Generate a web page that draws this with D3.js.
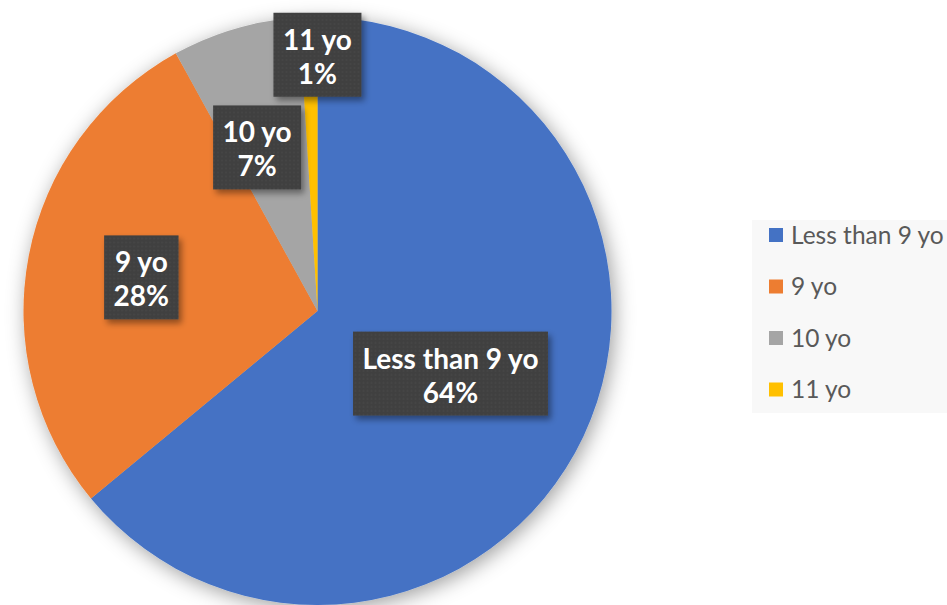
<!DOCTYPE html>
<html>
<head>
<meta charset="utf-8">
<script src="https://cdn.jsdelivr.net/npm/d3@7/dist/d3.min.js"></script>
<style>
  html, body { margin: 0; padding: 0; background: #ffffff; }
  svg { display: block; }
</style>
</head>
<body>
<svg id="chart" width="947" height="605"></svg>
<script>
// Age groups and their share of respondents (%)
const categories = ["Less than 9 yo", "9 yo", "10 yo", "11 yo"];
const values = [64, 28, 7, 1];
const colors = ["#4472C4", "#ED7D31", "#A5A5A5", "#FFC000"];

// Label placement: fraction of the radius for each callout, plus small nudges
const labelRadius = [0.5, 0.61, 0.59, 0.872];
const labelNudge = [[0, 0], [0, 0], [-12, 3], [8, 0]];

const W = 947, H = 605;
const cx = 317.5, cy = 311, R = 294;

const svg = d3.select("#chart");
const defs = svg.append("defs");

// soft glow around the pie
const pieShadow = defs.append("filter").attr("id", "pieShadow")
  .attr("x", "-10%").attr("y", "-10%").attr("width", "120%").attr("height", "120%");
pieShadow.append("feDropShadow")
  .attr("dx", 3).attr("dy", 4).attr("stdDeviation", 10)
  .attr("flood-color", "#000").attr("flood-opacity", 0.38);

// shadow under the callout boxes
const boxShadow = defs.append("filter").attr("id", "boxShadow")
  .attr("x", "-20%").attr("y", "-20%").attr("width", "150%").attr("height", "150%");
boxShadow.append("feDropShadow")
  .attr("dx", 3).attr("dy", 4).attr("stdDeviation", 3)
  .attr("flood-color", "#000").attr("flood-opacity", 0.4);

// faint dotted texture on the callouts
const dots = defs.append("pattern").attr("id", "dots")
  .attr("width", 4).attr("height", 4).attr("patternUnits", "userSpaceOnUse");
dots.append("rect").attr("width", 4).attr("height", 4).attr("fill", "#404040");
dots.append("circle").attr("cx", 1).attr("cy", 1).attr("r", 0.6).attr("fill", "#575757");

const data = categories.map((c, i) => ({ name: c, value: values[i], color: colors[i], i }));

const pie = d3.pie().value(d => d.value).sort(null);
const arcs = pie(data);
const arc = d3.arc().innerRadius(0).outerRadius(R);

const g = svg.append("g").attr("transform", `translate(${cx},${cy})`);

g.append("g").attr("filter", "url(#pieShadow)")
  .selectAll("path").data(arcs).join("path")
  .attr("d", arc)
  .attr("fill", d => d.data.color);

// callout labels
const labels = g.append("g");
arcs.forEach((a, k) => {
  const r = R * labelRadius[k];
  const c = d3.arc().innerRadius(r).outerRadius(r).centroid(a);
  const x = c[0] + labelNudge[k][0];
  const y = c[1] + labelNudge[k][1];
  const lg = labels.append("g").attr("transform", `translate(${x},${y})`);
  const box = lg.append("rect").attr("fill", "url(#dots)").attr("filter", "url(#boxShadow)");
  const t = lg.append("text")
    .attr("text-anchor", "middle")
    .attr("font-family", "Lato, 'Open Sans', sans-serif")
    .attr("font-weight", "bold")
    .attr("font-size", 28)
    .attr("fill", "#ffffff");
  t.append("tspan").attr("x", 0).attr("y", -5).text(a.data.name);
  t.append("tspan").attr("x", 0).attr("y", 29).text(d3.format(".0f")(a.data.value) + "%");
  const bb = t.node().getBBox();
  const bw = bb.width + 19, bh = 84;
  box.attr("x", -bw / 2).attr("y", -bh / 2).attr("width", bw).attr("height", bh);
});

// legend
const legend = svg.append("g").attr("transform", "translate(752,220)");
legend.append("rect").attr("width", 195).attr("height", 193).attr("fill", "#f8f8f8");
const rows = legend.selectAll("g.row").data(data).join("g")
  .attr("class", "row")
  .attr("transform", (d, i) => `translate(17,${15 + i * 51.5})`);
rows.append("rect").attr("x", 0).attr("y", -7).attr("width", 14).attr("height", 14)
  .attr("fill", d => d.color);
rows.append("text")
  .attr("x", 22).attr("y", 8.5)
  .attr("font-family", "Lato, 'Open Sans', sans-serif")
  .attr("font-size", 24.5)
  .attr("fill", "#595959")
  .text(d => d.name);
</script>
</body>
</html>
